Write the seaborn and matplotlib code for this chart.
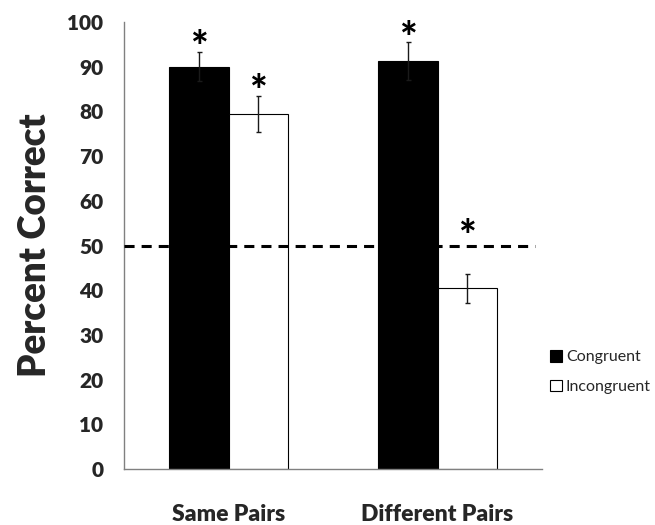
import matplotlib
matplotlib.use("Agg")
import matplotlib.pyplot as plt
import seaborn as sns
import pandas as pd

# ---- data ----
conditions = ["Same Pairs", "Different Pairs"]
series = ["Congruent", "Incongruent"]
congruent = [90.0, 91.3]
incongruent = [79.4, 40.4]
congruent_err = [3.2, 4.3]
incongruent_err = [4.1, 3.2]
chance_level = 50.0
star_y_congruent = [94.0, 96.0]
star_y_incongruent = [84.2, 51.6]
y_ticks = [0, 10, 20, 30, 40, 50, 60, 70, 80, 90, 100]

sns.set_theme(style="white")
plt.rcParams['font.family'] = ['Lato', 'DejaVu Sans']

df = pd.DataFrame({
    "Condition": conditions * 2,
    "Type": [series[0]] * 2 + [series[1]] * 2,
    "Percent": congruent + incongruent,
})

fig = plt.figure(figsize=(6.55, 5.25), dpi=100)
ax = fig.add_axes([124/655, (525-469)/525, (542-124)/655, (469-22)/525])

sns.barplot(data=df, x="Condition", y="Percent", hue="Type", order=conditions,
            hue_order=series, palette={"Congruent": "black", "Incongruent": "white"},
            edgecolor="black", linewidth=0.8, width=0.567, errorbar=None, ax=ax)

errs = [congruent_err, incongruent_err]
vals = [congruent, incongruent]
stars = [star_y_congruent, star_y_incongruent]
for cont, v, e, sy in zip(ax.containers, vals, errs, stars):
    xs = [p.get_x() + p.get_width() / 2 for p in cont.patches]
    ax.errorbar(xs, v, yerr=e, fmt='none', ecolor='#1a1a1a', elinewidth=1.0,
                capsize=1.8, capthick=1.0, zorder=5)
    for x, y in zip(xs, sy):
        ax.text(x, y, "*", ha='center', va='center', fontsize=30,
                fontweight=900, color='black')

ax.axhline(chance_level, xmin=0, xmax=(535-124)/(542-124), color='black',
           lw=2.2, linestyle=(0, (3.3, 2.3)), zorder=4)

ax.set_xlim(-0.5, 1.5)
ax.set_ylim(0, 100)
ax.set_yticks(y_ticks)
ax.set_yticklabels([str(t) for t in y_ticks], fontsize=15, fontweight=800)
ax.set_xticks(range(len(conditions)))
ax.set_xticklabels(conditions, fontsize=16.5, fontweight=800)
ax.tick_params(axis='x', length=0, pad=25)
ax.tick_params(axis='y', length=6, width=1, color='#808080', direction='out', pad=9)
ax.set_xlabel("")
ax.set_ylabel("Percent Correct", fontsize=26.5, fontweight=800, labelpad=11)

for s in ["top", "right"]:
    ax.spines[s].set_visible(False)
for s in ["left", "bottom"]:
    ax.spines[s].set_color('#808080')
    ax.spines[s].set_linewidth(1.0)

handles, labels = ax.get_legend_handles_labels()
ax.legend(handles, labels, loc='center left', bbox_to_anchor=(1.019, 0.217),
          frameon=False, fontsize=11.5, handlelength=0.75, handleheight=0.75,
          handletextpad=0.25, labelspacing=0.95, borderpad=0, borderaxespad=0)

fig.savefig("out.png", dpi=100)
